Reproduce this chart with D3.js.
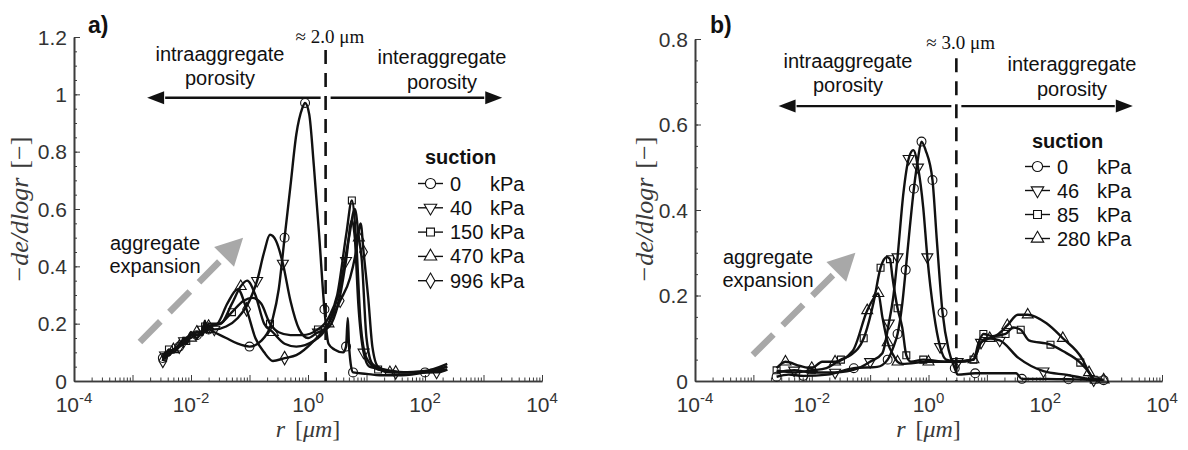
<!DOCTYPE html>
<html>
<head>
<meta charset="utf-8">
<script src="https://cdn.jsdelivr.net/npm/d3@7/dist/d3.min.js"></script>
<style>
  body { margin: 0; background: #fff; }
  svg { font-family: 'Liberation Sans', Arial, sans-serif; }
</style>
</head>
<body>
<div id="chart"></div>
<script>
// ---------------- data (r in µm, -de/dlogr) ----------------
const suctionA = ['0', '40', '150', '470', '996'];
const suctionB = ['0', '46', '85', '280'];

const yTicksA = [0, 0.2, 0.4, 0.6, 0.8, 1, 1.2];
const yTicksB = [0, 0.2, 0.4, 0.6, 0.8];
const xLabelExps = [-4, -2, 0, 2, 4];

// panel a)
const a0 = [[0.0033,0.08],[0.0036,0.1],[0.0042,0.09],[0.005,0.11],[0.0063,0.12],[0.0076,0.15],[0.0083,0.13],[0.01,0.16],[0.0126,0.16],[0.0158,0.18],[0.0174,0.21],[0.0182,0.17],[0.02,0.18],[0.0251,0.17],[0.0398,0.15],[0.0631,0.13],[0.1,0.12],[0.158,0.14],[0.251,0.22],[0.316,0.32],[0.398,0.5],[0.501,0.68],[0.631,0.86],[0.794,0.95],[0.891,0.97],[1.05,0.93],[1.26,0.75],[1.55,0.51],[1.91,0.25],[2.24,0.13],[2.82,0.11],[3.98,0.1],[4.47,0.12],[4.79,0.22],[5.01,0.13],[5.37,0.06],[5.89,0.03],[10,0.025],[17,0.02],[40,0.02],[100,0.03],[240,0.05]];
const a40 = [[0.0033,0.07],[0.0036,0.09],[0.0042,0.1],[0.005,0.1],[0.0063,0.13],[0.0076,0.14],[0.0083,0.15],[0.01,0.16],[0.0126,0.15],[0.0158,0.18],[0.0174,0.2],[0.0182,0.18],[0.02,0.19],[0.0251,0.18],[0.0398,0.19],[0.0631,0.22],[0.1,0.28],[0.135,0.35],[0.178,0.45],[0.224,0.51],[0.282,0.49],[0.372,0.41],[0.501,0.28],[0.708,0.18],[1,0.15],[1.48,0.17],[2.0,0.18],[2.51,0.2],[3.55,0.3],[4.47,0.42],[5.62,0.56],[6.31,0.5],[7.24,0.27],[8.91,0.1],[11.2,0.05],[20,0.04],[50,0.03],[158,0.03],[240,0.04]];
const a150 = [[0.0033,0.08],[0.0036,0.09],[0.0042,0.11],[0.005,0.1],[0.0063,0.12],[0.0076,0.14],[0.0083,0.14],[0.01,0.17],[0.0126,0.16],[0.0158,0.17],[0.0174,0.19],[0.0182,0.17],[0.02,0.19],[0.0316,0.2],[0.0501,0.24],[0.0794,0.28],[0.112,0.29],[0.158,0.27],[0.224,0.2],[0.316,0.17],[0.501,0.16],[0.794,0.16],[1.48,0.18],[2.24,0.22],[3.16,0.3],[4.57,0.52],[5.62,0.63],[6.61,0.5],[7.94,0.2],[10,0.08],[15.8,0.04],[39.8,0.03],[100,0.035],[240,0.06]];
const a470 = [[0.0033,0.08],[0.0036,0.08],[0.0042,0.1],[0.005,0.11],[0.0063,0.12],[0.0076,0.13],[0.0083,0.15],[0.01,0.15],[0.0126,0.17],[0.0158,0.16],[0.0174,0.2],[0.0182,0.18],[0.02,0.2],[0.0316,0.2],[0.0501,0.27],[0.0708,0.33],[0.0912,0.35],[0.126,0.3],[0.178,0.2],[0.251,0.17],[0.398,0.13],[0.631,0.12],[1.26,0.14],[2.24,0.2],[3.55,0.33],[5.01,0.5],[6.31,0.6],[7.41,0.5],[8.32,0.42],[10,0.15],[12.6,0.06],[25.1,0.03],[79.4,0.03],[240,0.05]];
const a996 = [[0.0033,0.07],[0.0036,0.09],[0.0042,0.09],[0.005,0.11],[0.0063,0.12],[0.0076,0.14],[0.0083,0.13],[0.01,0.16],[0.0126,0.17],[0.0158,0.17],[0.0174,0.2],[0.0182,0.18],[0.02,0.19],[0.0282,0.2],[0.0417,0.27],[0.0631,0.32],[0.0891,0.25],[0.126,0.15],[0.178,0.1],[0.251,0.07],[0.398,0.08],[0.631,0.09],[1.26,0.14],[2.24,0.2],[3.55,0.28],[5.25,0.36],[6.61,0.45],[7.94,0.55],[8.91,0.45],[10.7,0.29],[12.6,0.12],[15.8,0.05],[31.6,0.03],[100,0.03],[240,0.04]];

// panel b)
const b0 = [[0.0025,0.01],[0.004,0.015],[0.0072,0.012],[0.0186,0.015],[0.0525,0.03],[0.132,0.033],[0.2,0.05],[0.251,0.08],[0.295,0.11],[0.355,0.18],[0.407,0.26],[0.479,0.36],[0.562,0.45],[0.661,0.52],[0.759,0.56],[0.891,0.54],[1.17,0.47],[1.38,0.335],[1.74,0.16],[2.24,0.07],[2.82,0.03],[3.16,0.015],[6.31,0.018],[31.6,0.018],[39.8,0.005],[105,0.005],[251,0.004],[589,0.003],[1000,0.002]];
const b46 = [[0.0025,0.02],[0.005,0.025],[0.01,0.02],[0.0251,0.02],[0.0631,0.03],[0.1,0.045],[0.162,0.065],[0.209,0.135],[0.251,0.2],[0.295,0.29],[0.372,0.44],[0.457,0.52],[0.55,0.54],[0.661,0.5],[0.813,0.405],[0.955,0.29],[1.23,0.16],[1.58,0.08],[2.0,0.05],[3.16,0.045],[5.89,0.05],[7.94,0.09],[10,0.1],[16.6,0.095],[34.7,0.054],[93.3,0.023],[240,0.014],[676,0.002]];
const b85 = [[0.0025,0.025],[0.005,0.02],[0.01,0.025],[0.0178,0.03],[0.0316,0.05],[0.0457,0.06],[0.0776,0.1],[0.115,0.185],[0.151,0.265],[0.195,0.29],[0.219,0.285],[0.24,0.245],[0.295,0.17],[0.355,0.125],[0.417,0.06],[0.501,0.045],[0.813,0.05],[2.0,0.045],[5.89,0.05],[7.24,0.09],[8.71,0.11],[12.6,0.105],[20.9,0.11],[28.2,0.125],[38,0.12],[52.5,0.095],[123,0.085],[200,0.07],[398,0.043],[562,0.02],[676,0.003]];
const b280 = [[0.0025,0.03],[0.00355,0.045],[0.00631,0.035],[0.01,0.03],[0.0151,0.045],[0.0251,0.045],[0.0501,0.07],[0.0891,0.165],[0.117,0.195],[0.138,0.205],[0.162,0.15],[0.2,0.09],[0.251,0.06],[0.295,0.045],[0.355,0.04],[1,0.045],[3.16,0.045],[5.89,0.05],[7.94,0.09],[11.2,0.1],[15.8,0.11],[22.4,0.13],[33.9,0.155],[50.1,0.155],[105,0.135],[200,0.1],[437,0.05],[562,0.02],[676,0.005],[1000,0.003]];

// ---------------- setup ----------------
const width = 1188;
const height = 450;
const ink = '#111';
const axisColor = '#3c3c3c';
const grayArrow = '#a8a8a8';

const svg = d3.select('#chart').append('svg')
  .attr('width', width)
  .attr('height', height);

const symCircle = d3.symbolCircle;
const symTriangle = d3.symbolTriangle;
const symSquare = d3.symbolSquare;
const symDiamond = d3.symbolDiamond;

function marker(sel, type, size) {
  const down = type === 'down';
  const t = { circle: symCircle, down: symTriangle, up: symTriangle, square: symSquare, diamond: symDiamond }[type];
  const s = { circle: 62, down: 52, up: 52, square: 48, diamond: 52 }[type] * size;
  sel.attr('d', d3.symbol().type(t).size(s)())
    .attr('fill', 'none')
    .attr('stroke', ink)
    .attr('stroke-width', 1.1);
  return down;
}

function arrowHead(g, x1, y1, x2, y2, len, half, color) {
  const ang = Math.atan2(y2 - y1, x2 - x1);
  const bx = x2 - len * Math.cos(ang), by = y2 - len * Math.sin(ang);
  const px = -Math.sin(ang) * half, py = Math.cos(ang) * half;
  g.append('path')
    .attr('d', `M${x2},${y2} L${bx + px},${by + py} L${bx - px},${by - py} Z`)
    .attr('fill', color);
  return [bx, by];
}

function drawPanel(p) {
  const g = svg.append('g');
  const x = d3.scaleLog().domain([1e-4, 1e4]).range([p.left, p.right]);
  const y = d3.scaleLinear().domain([0, p.yMax]).range([p.bottom, p.top]);

  // ---------- x axis ----------
  const minor = [];
  for (let e = -4; e < 4; e++) for (let k = 2; k <= 9; k++) minor.push(k * Math.pow(10, e));
  const major = d3.range(-4, 5).map(e => Math.pow(10, e));

  g.append('g')
    .attr('transform', `translate(0,${p.bottom})`)
    .call(d3.axisBottom(x).tickValues(minor).tickSize(-3.5).tickSizeOuter(0).tickFormat(''));
  g.append('g')
    .attr('transform', `translate(0,${p.bottom})`)
    .call(d3.axisBottom(x).tickValues(major).tickSize(-6).tickSizeOuter(0).tickFormat(''));

  xLabelExps.forEach(e => {
    const t = g.append('text')
      .attr('x', x(Math.pow(10, e)))
      .attr('y', p.bottom + 31)
      .attr('text-anchor', 'middle')
      .attr('font-size', 21)
      .attr('fill', '#333');
    t.append('tspan').text('10');
    t.append('tspan').attr('dy', -9).attr('font-size', 15).text(e);
  });

  // ---------- y axis ----------
  const yMinor = d3.range(0, p.yMax + 1e-9, 0.05);
  g.append('g')
    .attr('transform', `translate(${p.left},0)`)
    .call(d3.axisLeft(y).tickValues(yMinor).tickSize(-3).tickSizeOuter(0).tickFormat(''));
  g.append('g')
    .attr('transform', `translate(${p.left},0)`)
    .call(d3.axisLeft(y).tickValues(p.yTicks).tickSize(-6).tickSizeOuter(0).tickFormat(''));

  p.yTicks.forEach(v => {
    g.append('text')
      .attr('x', p.left - 7)
      .attr('y', y(v))
      .attr('dy', '0.36em')
      .attr('text-anchor', 'end')
      .attr('font-size', 21)
      .attr('fill', '#333')
      .text(d3.format('~g')(v));
  });

  g.selectAll('.domain').attr('stroke', axisColor).attr('stroke-width', 1.6);
  g.selectAll('.tick line').attr('stroke', axisColor).attr('stroke-width', 1);

  // axis titles
  const yl = g.append('text')
    .attr('transform', `translate(${p.yTitleX},210) rotate(-90)`)
    .attr('text-anchor', 'middle')
    .attr('font-family', "'Liberation Serif', 'DejaVu Serif', serif")
    .attr('font-size', 26)
    .attr('fill', '#3a3a3a');
  yl.append('tspan').attr('font-style', 'italic').text('\u2212de/dlogr');
  yl.append('tspan').attr('dx', 9).text('[\u2212]');

  const xl = g.append('text')
    .attr('x', x(1))
    .attr('y', 437)
    .attr('text-anchor', 'middle')
    .attr('font-family', "'Liberation Serif', 'DejaVu Serif', serif")
    .attr('font-size', 24)
    .attr('fill', '#3a3a3a');
  xl.append('tspan').attr('font-style', 'italic').text('r');
  xl.append('tspan').attr('dx', 10).text('[');
  xl.append('tspan').attr('font-style', 'italic').text('\u03bcm');
  xl.append('tspan').text(']');

  // ---------- curves ----------
  const line = d3.line()
    .x(d => x(d[0]))
    .y(d => y(d[1]))
    .curve(d3.curveMonotoneX);

  p.series.forEach(s => {
    g.append('path')
      .datum(s)
      .attr('d', line)
      .attr('fill', 'none')
      .attr('stroke', ink)
      .attr('stroke-width', 2.4)
      .attr('stroke-linejoin', 'round');
  });
  p.series.forEach((s, i) => {
    const type = p.symbols[i];
    g.selectAll(null)
      .data(s.filter((d, j) => j % p.markEvery === (i % p.markEvery)))
      .join('path')
      .each(function (d) {
        const down = marker(d3.select(this), type, 1);
        d3.select(this).attr('transform', `translate(${x(d[0])},${y(d[1])})${down ? ' rotate(180)' : ''}`);
      });
  });

  // ---------- cut-off line + porosity arrows ----------
  const cx = x(p.cut);
  g.append('line')
    .attr('x1', cx).attr('x2', cx)
    .attr('y1', y(p.cutTop)).attr('y2', p.bottom)
    .attr('stroke', ink)
    .attr('stroke-width', 2.6)
    .attr('stroke-dasharray', '14 9');

  const ay = y(p.arrowY);
  const lTip = x(p.arrowL), rTip = x(p.arrowR);
  const lb = arrowHead(g, cx - 5, ay, lTip, ay, 17, 6.5, ink);
  g.append('line').attr('x1', cx - 5).attr('x2', lb[0] + 1).attr('y1', ay).attr('y2', ay)
    .attr('stroke', ink).attr('stroke-width', 2.4);
  const rb = arrowHead(g, cx + 5, ay, rTip, ay, 17, 6.5, ink);
  g.append('line').attr('x1', cx + 5).attr('x2', rb[0] - 1).attr('y1', ay).attr('y2', ay)
    .attr('stroke', ink).attr('stroke-width', 2.4);

  g.append('text')
    .attr('x', cx - 30)
    .attr('y', p.cutLabelY)
    .attr('font-family', "'Liberation Serif', 'DejaVu Serif', serif")
    .attr('font-size', 19)
    .attr('fill', ink)
    .text(`\u2248 ${p.cut.toFixed(1)} \u03bcm`);

  const texts = [
    { t: 'intraaggregate', x: p.intraX, y: p.intraY },
    { t: 'porosity', x: p.intraX, y: p.intraY + 24 },
    { t: 'interaggregate', x: p.interX, y: p.interY },
    { t: 'porosity', x: p.interX, y: p.interY + 25 },
    { t: 'aggregate', x: p.aggX, y: p.aggY },
    { t: 'expansion', x: p.aggX, y: p.aggY + 23 }
  ];
  texts.forEach(d => {
    g.append('text')
      .attr('x', d.x).attr('y', d.y)
      .attr('text-anchor', 'middle')
      .attr('font-size', 20)
      .attr('fill', ink)
      .text(d.t);
  });

  // ---------- gray "aggregate expansion" arrow ----------
  const gx1 = x(p.grayFrom[0]), gy1 = y(p.grayFrom[1]);
  const gx2 = x(p.grayTo[0]), gy2 = y(p.grayTo[1]);
  const gb = arrowHead(g, gx1, gy1, gx2, gy2, 27, 14, grayArrow);
  g.append('line')
    .attr('x1', gx1).attr('y1', gy1)
    .attr('x2', gb[0]).attr('y2', gb[1])
    .attr('stroke', grayArrow)
    .attr('stroke-width', 6.5)
    .attr('stroke-dasharray', '29 13');

  // ---------- panel letter ----------
  g.append('text')
    .attr('x', p.letterX).attr('y', 33)
    .attr('font-size', 23)
    .attr('font-weight', 'bold')
    .attr('fill', ink)
    .text(p.letter);

  // ---------- legend ----------
  const lg = g.append('g').attr('transform', `translate(${p.legendX},${p.legendY})`);
  lg.append('text')
    .attr('x', 7).attr('y', 0)
    .attr('font-size', 20)
    .attr('font-weight', 'bold')
    .attr('fill', ink)
    .text('suction');
  p.labels.forEach((lab, i) => {
    const ry = p.legendRow0 + i * p.legendStep;
    lg.append('line')
      .attr('x1', 0).attr('x2', 25).attr('y1', ry).attr('y2', ry)
      .attr('stroke', ink).attr('stroke-width', 1.4);
    const m = lg.append('path');
    const down = marker(m, p.symbols[i], 1.3);
    m.attr('fill', '#fff')
      .attr('transform', `translate(12.5,${ry})${down ? ' rotate(180)' : ''}`);
    lg.append('text')
      .attr('x', 32).attr('y', ry + 7)
      .attr('font-size', 20)
      .attr('fill', ink)
      .text(lab);
    lg.append('text')
      .attr('x', 72).attr('y', ry + 7)
      .attr('font-size', 20)
      .attr('fill', ink)
      .text('kPa');
  });
}

drawPanel({
  letter: 'a)', letterX: 88,
  left: 74, right: 542, top: 37, bottom: 381,
  yMax: 1.2, yTicks: yTicksA, yTitleX: 28,
  series: [a0, a40, a150, a470, a996],
  symbols: ['circle', 'down', 'square', 'up', 'diamond'],
  labels: suctionA,
  markEvery: 4,
  cut: 2.0, cutTop: 1.155, cutLabelY: 43,
  arrowY: 0.988, arrowL: 0.00178, arrowR: 2090,
  intraX: 220, intraY: 61, interX: 442, interY: 64,
  aggX: 155, aggY: 250,
  grayFrom: [0.00134, 0.136], grayTo: [0.0776, 0.5],
  legendX: 418, legendY: 164, legendRow0: 19.5, legendStep: 24.3
});

drawPanel({
  letter: 'b)', letterX: 710,
  left: 695, right: 1162, top: 39, bottom: 381,
  yMax: 0.8, yTicks: yTicksB, yTitleX: 653,
  series: [b0, b46, b85, b280],
  symbols: ['circle', 'down', 'square', 'up'],
  labels: suctionB,
  markEvery: 2,
  cut: 3.0, cutTop: 0.755, cutLabelY: 49,
  arrowY: 0.643, arrowL: 0.0027, arrowR: 3160,
  intraX: 848, intraY: 68, interX: 1072, interY: 71,
  aggX: 768, aggY: 264,
  grayFrom: [0.00098, 0.061], grayTo: [0.056, 0.3],
  legendX: 1025, legendY: 148, legendRow0: 18.5, legendStep: 24
});
</script>
</body>
</html>
